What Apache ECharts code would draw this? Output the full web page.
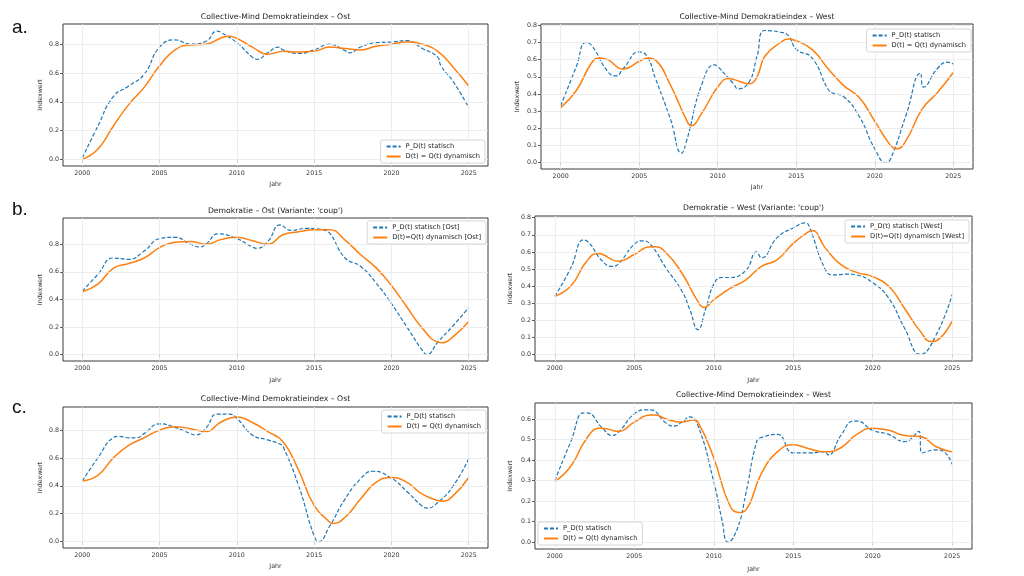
<!DOCTYPE html>
<html><head><meta charset="utf-8">
<script src="https://cdn.jsdelivr.net/npm/echarts@6/dist/echarts.min.js"></script>
<style>html,body{margin:0;padding:0;background:#fff}#c{width:1024px;height:576px}</style>
</head><body><div id="c"></div>
<script>
// ---- tick labels ----
const tickYears = [2000, 2005, 2010, 2015, 2020, 2025];
const yTicksA = [0, 0.2, 0.4, 0.6, 0.8];
const yTicksB = [0, 0.1, 0.2, 0.3, 0.4, 0.5, 0.6, 0.7, 0.8];
const yTicksC = [0, 0.1, 0.2, 0.3, 0.4, 0.5, 0.6];

// ---- titles / names ----
const titles = [
  "Collective-Mind Demokratieindex \u2013 Ost",
  "Collective-Mind Demokratieindex \u2013 West",
  "Demokratie \u2013 Ost (Variante: 'coup')",
  "Demokratie \u2013 West (Variante: 'coup')",
  "Collective-Mind Demokratieindex \u2013 Ost",
  "Collective-Mind Demokratieindex \u2013 West"
];
const namesP = ["P_D(t) statisch", "P_D(t) statisch", "P_D(t) statisch [Ost]", "P_D(t) statisch [West]", "P_D(t) statisch", "P_D(t) statisch"];
const namesD = ["D(t) = Q(t) dynamisch", "D(t) = Q(t) dynamisch", "D(t)=Q(t) dynamisch [Ost]", "D(t)=Q(t) dynamisch [West]", "D(t) = Q(t) dynamisch", "D(t) = Q(t) dynamisch"];

// ---- panel a, Ost ----
const aOstYearsP = [2000,2001,2002,2003,2004,2005,2006,2007,2008,2008.7,2009,2010,2011,2011.3,2012,2012.7,2013,2014,2015,2016,2017,2017.3,2018,2019,2020,2021,2022,2023,2023.2,2024,2025];
const aOstP      = [0.01,0.23,0.435,0.51,0.59,0.78,0.83,0.80,0.82,0.89,0.88,0.81,0.71,0.695,0.74,0.78,0.76,0.735,0.76,0.80,0.755,0.74,0.78,0.81,0.815,0.825,0.77,0.71,0.65,0.54,0.36];
const aOstYearsD = [2000,2001,2002,2003,2004,2005,2006,2007,2008,2009,2009.5,2010,2011,2012,2013,2014,2015,2016,2017,2018,2019,2020,2021,2022,2023,2024,2025];
const aOstD      = [0.0,0.07,0.23,0.38,0.50,0.65,0.76,0.795,0.80,0.845,0.855,0.84,0.78,0.73,0.75,0.745,0.75,0.78,0.77,0.76,0.785,0.80,0.815,0.80,0.75,0.64,0.51];

// ---- panel a, West ----
const aWestYearsP = [2000,2001,2001.6,2002,2003,2003.5,2004,2005,2005.5,2006,2007,2007.7,2008,2009,2009.8,2010,2011,2011.3,2012,2012.5,2013,2014,2014.5,2015,2016,2017,2017.3,2018,2019,2020,2020.7,2021,2022,2022.9,2023.1,2024,2024.6,2025];
const aWestP      = [0.33,0.56,0.70,0.68,0.53,0.505,0.55,0.645,0.62,0.50,0.25,0.055,0.12,0.46,0.57,0.56,0.46,0.43,0.47,0.62,0.77,0.76,0.74,0.66,0.61,0.43,0.405,0.385,0.27,0.08,0.0,0.02,0.28,0.52,0.44,0.55,0.585,0.575];
const aWestYearsD = [2000,2001,2002,2002.5,2003,2004,2005,2005.6,2006,2007,2008,2008.3,2009,2010,2010.7,2011,2012,2012.5,2013,2014,2014.5,2015,2016,2017,2018,2019,2020,2021,2021.4,2022,2023,2024,2025];
const aWestD      = [0.32,0.42,0.585,0.61,0.60,0.545,0.59,0.61,0.60,0.45,0.25,0.215,0.29,0.44,0.49,0.485,0.46,0.50,0.62,0.70,0.72,0.71,0.66,0.55,0.45,0.38,0.24,0.10,0.08,0.13,0.31,0.41,0.525];

// ---- panel b, Ost ----
const bOstYearsP = [2000,2001,2002,2003,2004,2005,2006,2007,2007.6,2008,2008.8,2010,2011,2011.3,2012,2012.8,2013.5,2014.5,2015.5,2016,2017,2018,2019,2020,2021,2022,2022.3,2023,2024,2025];
const bOstP      = [0.46,0.58,0.70,0.69,0.75,0.84,0.85,0.80,0.78,0.80,0.875,0.84,0.78,0.77,0.82,0.94,0.90,0.915,0.905,0.88,0.70,0.64,0.52,0.37,0.20,0.03,0.0,0.09,0.21,0.34];
const bOstYearsD = [2000,2001,2002,2003,2004,2005,2006,2007,2008,2009,2010,2011,2012,2013,2014,2015,2016,2017,2018,2019,2020,2021,2022,2023,2023.3,2024,2025];
const bOstD      = [0.455,0.51,0.625,0.66,0.70,0.775,0.815,0.82,0.80,0.835,0.85,0.825,0.80,0.87,0.89,0.905,0.905,0.83,0.725,0.63,0.50,0.345,0.19,0.09,0.085,0.13,0.24];

// ---- panel b, West ----
const bWestYearsP = [2000,2001,2001.8,2002,2003,2003.6,2004,2005,2005.5,2006,2007,2008,2008.5,2009,2009.5,2010,2010.5,2011,2012,2012.7,2013,2014,2015,2015.8,2016,2017,2017.5,2018.5,2019,2020,2021,2022,2023,2024,2025];
const bWestP      = [0.34,0.505,0.67,0.665,0.545,0.515,0.53,0.645,0.665,0.645,0.505,0.37,0.26,0.145,0.27,0.41,0.45,0.45,0.49,0.60,0.565,0.685,0.74,0.77,0.75,0.50,0.465,0.47,0.465,0.42,0.33,0.155,0.0,0.115,0.35];
const bWestYearsD = [2000,2001,2002,2002.7,2003,2004,2005,2006,2006.3,2007,2008,2009,2009.4,2010,2011,2012,2013,2014,2015,2016,2016.2,2017,2018,2019,2020,2021,2022,2023,2023.7,2024,2025];
const bWestD      = [0.34,0.40,0.545,0.59,0.585,0.545,0.585,0.63,0.63,0.595,0.475,0.31,0.275,0.32,0.385,0.435,0.515,0.555,0.65,0.72,0.725,0.625,0.525,0.48,0.455,0.40,0.27,0.135,0.075,0.08,0.195];

// ---- panel c, Ost ----
const cOstYearsP = [2000,2001,2002,2002.4,2003,2003.5,2004,2005,2006,2007,2007.3,2008,2008.7,2009.5,2010,2011,2012,2012.8,2013,2014,2015,2015.3,2016,2017,2018,2018.8,2020,2021,2022,2022.3,2023,2024,2025];
const cOstP      = [0.435,0.60,0.745,0.755,0.745,0.745,0.775,0.845,0.82,0.775,0.765,0.815,0.915,0.915,0.885,0.765,0.73,0.70,0.68,0.40,0.04,0.0,0.11,0.305,0.45,0.505,0.455,0.36,0.253,0.24,0.28,0.40,0.595];
const cOstYearsD = [2000,2001,2002,2003,2004,2005,2006,2007,2008,2009,2010,2011,2012,2013,2014,2015,2016,2016.2,2017,2018,2019,2020,2021,2022,2023,2023.3,2024,2025];
const cOstD      = [0.435,0.475,0.60,0.69,0.745,0.80,0.825,0.81,0.79,0.86,0.895,0.855,0.79,0.715,0.51,0.26,0.14,0.13,0.175,0.305,0.425,0.46,0.425,0.34,0.295,0.29,0.33,0.46];

// ---- panel c, West ----
const cWestYearsP = [2000,2001,2001.8,2002,2003,2003.6,2004,2005,2005.8,2006,2007,2007.5,2008,2008.5,2009,2010,2010.5,2010.9,2011.5,2012,2012.7,2013,2014,2015,2016,2017,2017.2,2018,2018.8,2019,2020,2021,2022,2022.9,2023.1,2024,2024.4,2025];
const cWestP      = [0.30,0.49,0.63,0.63,0.555,0.52,0.535,0.625,0.645,0.645,0.58,0.565,0.585,0.61,0.57,0.295,0.115,0.0,0.07,0.23,0.49,0.51,0.525,0.435,0.435,0.44,0.425,0.52,0.59,0.59,0.545,0.525,0.49,0.54,0.435,0.45,0.445,0.38];
const cWestYearsD = [2000,2001,2002,2002.8,2003,2004,2005,2006,2006.3,2007,2008,2008.7,2009,2010,2011,2011.6,2012,2013,2014,2015,2016,2017,2018,2019,2020,2021,2022,2023,2024,2025];
const cWestD      = [0.295,0.37,0.505,0.555,0.555,0.54,0.585,0.62,0.62,0.60,0.585,0.595,0.585,0.41,0.18,0.145,0.155,0.335,0.44,0.475,0.455,0.44,0.46,0.525,0.555,0.545,0.52,0.515,0.465,0.44];

// ---- assemble ----
const seriesSets = [
  [aOstYearsP, aOstP, aOstYearsD, aOstD],
  [aWestYearsP, aWestP, aWestYearsD, aWestD],
  [bOstYearsP, bOstP, bOstYearsD, bOstD],
  [bWestYearsP, bWestP, bWestYearsD, bWestD],
  [cOstYearsP, cOstP, cOstYearsD, cOstD],
  [cWestYearsP, cWestP, cWestYearsD, cWestD]
];
const yTickSets = [yTicksA, yTicksB, yTicksA, yTicksB, yTicksA, yTicksC];

// layout (pixel positions)
const X0 = 1998.75, X1 = 2026.25;
const layout = [
  {l:63,  t:24,  w:425, h:142, y0:-0.046, y1:0.94,  tt:13,  nG:20, xG:15, lg:{right:539, bottom:413}},
  {l:541, t:24,  w:432, h:145, y0:-0.038, y1:0.808, tt:13,  nG:21, xG:15, lg:{right:53, top:29}},
  {l:63,  t:218, w:425, h:143, y0:-0.047, y1:0.99,  tt:207, nG:20, xG:16, lg:{right:538, top:221}},
  {l:535, t:216, w:437, h:145, y0:-0.0385,y1:0.81,  tt:204, nG:22, xG:16, lg:{right:55, top:220}},
  {l:63,  t:407, w:425, h:141, y0:-0.046, y1:0.966, tt:395, nG:20, xG:15, lg:{right:538, top:410}},
  {l:535, t:403, w:437, h:146, y0:-0.033, y1:0.678, tt:391, nG:22, xG:17, lg:{left:538, top:522}}
];

const FONT = 'DejaVu Sans';
const BLUE = '#1f77b4', ORANGE = '#ff7f0e';
const pairs = (xs, ys) => xs.map((x, i) => [x, ys[i]]);

const grid = [], xAxis = [], yAxis = [], series = [], legend = [], title = [];
layout.forEach((L, i) => {
  grid.push({left:L.l, top:L.t, width:L.w, height:L.h, show:true, borderColor:'#3a3a3a', borderWidth:1, backgroundColor:'#fff', containLabel:false});
  xAxis.push({
    type:'value', gridIndex:i, min:X0, max:X1,
    axisLine:{show:false}, splitLine:{show:false},
    axisTick:{show:true, customValues:tickYears, length:3, lineStyle:{color:'#333', width:0.8}},
    axisLabel:{customValues:tickYears, fontSize:6.3, color:'#333', margin:4, fontFamily:FONT, formatter:v => String(Math.round(v))},
    name:'Jahr', nameLocation:'middle', nameGap:L.xG,
    nameTextStyle:{fontSize:6.3, color:'#333', fontFamily:FONT}
  });
  yAxis.push({
    type:'value', gridIndex:i, min:L.y0, max:L.y1,
    axisLine:{show:false}, splitLine:{show:false},
    axisTick:{show:true, customValues:yTickSets[i], length:3, lineStyle:{color:'#333', width:0.8}},
    axisLabel:{customValues:yTickSets[i], fontSize:6.3, color:'#333', margin:4, fontFamily:FONT, formatter:v => v.toFixed(1)},
    name:'Indexwert', nameLocation:'middle', nameRotate:90, nameGap:L.nG,
    nameTextStyle:{fontSize:6.3, color:'#333', fontFamily:FONT}
  });
  // light grid lines drawn through the axes
  series.push({
    type:'line', name:'grid'+i, xAxisIndex:i, yAxisIndex:i, data:[], z:1, silent:true, animation:false,
    markLine:{
      silent:true, symbol:['none','none'], label:{show:false}, animation:false,
      lineStyle:{color:'#e9e9e9', width:0.8, type:'solid'},
      emphasis:{disabled:true},
      data:[...tickYears.map(v => ({xAxis:v})), ...yTickSets[i].map(v => ({yAxis:v}))]
    }
  });
  const s = seriesSets[i];
  series.push({
    type:'line', name:namesP[i], xAxisIndex:i, yAxisIndex:i, data:pairs(s[0], s[1]),
    smooth:0.5, symbol:'none', showSymbol:false, z:3, animation:false,
    lineStyle:{color:BLUE, width:1.2, type:[4, 2]}, itemStyle:{color:BLUE}
  });
  series.push({
    type:'line', name:namesD[i], xAxisIndex:i, yAxisIndex:i, data:pairs(s[2], s[3]),
    smooth:0.5, symbol:'none', showSymbol:false, z:4, animation:false,
    lineStyle:{color:ORANGE, width:1.5}, itemStyle:{color:ORANGE}
  });
  legend.push(Object.assign({
    data:[namesP[i], namesD[i]], orient:'vertical', selectedMode:false, z:20,
    backgroundColor:'rgba(255,255,255,0.92)', borderColor:'#d5d5d5', borderWidth:1, borderRadius:2,
    padding:[3,5,3,5], itemGap:3, itemWidth:14, itemHeight:8,
    itemStyle:{opacity:0},
    textStyle:{fontSize:6.7, color:'#222', fontFamily:FONT}
  }, L.lg));
  title.push({
    text:titles[i], left:L.l + L.w / 2, top:L.tt, textAlign:'center', padding:0,
    textStyle:{fontSize:7.7, fontWeight:'normal', color:'#222', fontFamily:FONT}
  });
});

// panel letters
const panelLetters = ['a.', 'b.', 'c.'];
const letterTops = [18, 200, 398];
panelLetters.forEach((t, i) => {
  title.push({text:t, left:12, top:letterTops[i], padding:0,
    textStyle:{fontSize:19, fontWeight:'normal', color:'#111', fontFamily:'Liberation Sans'}});
});

const chart = echarts.init(document.getElementById('c'), null, {renderer:'canvas'});
chart.setOption({animation:false, backgroundColor:'#fff', title, grid, xAxis, yAxis, legend, series});
</script>
</body></html>
